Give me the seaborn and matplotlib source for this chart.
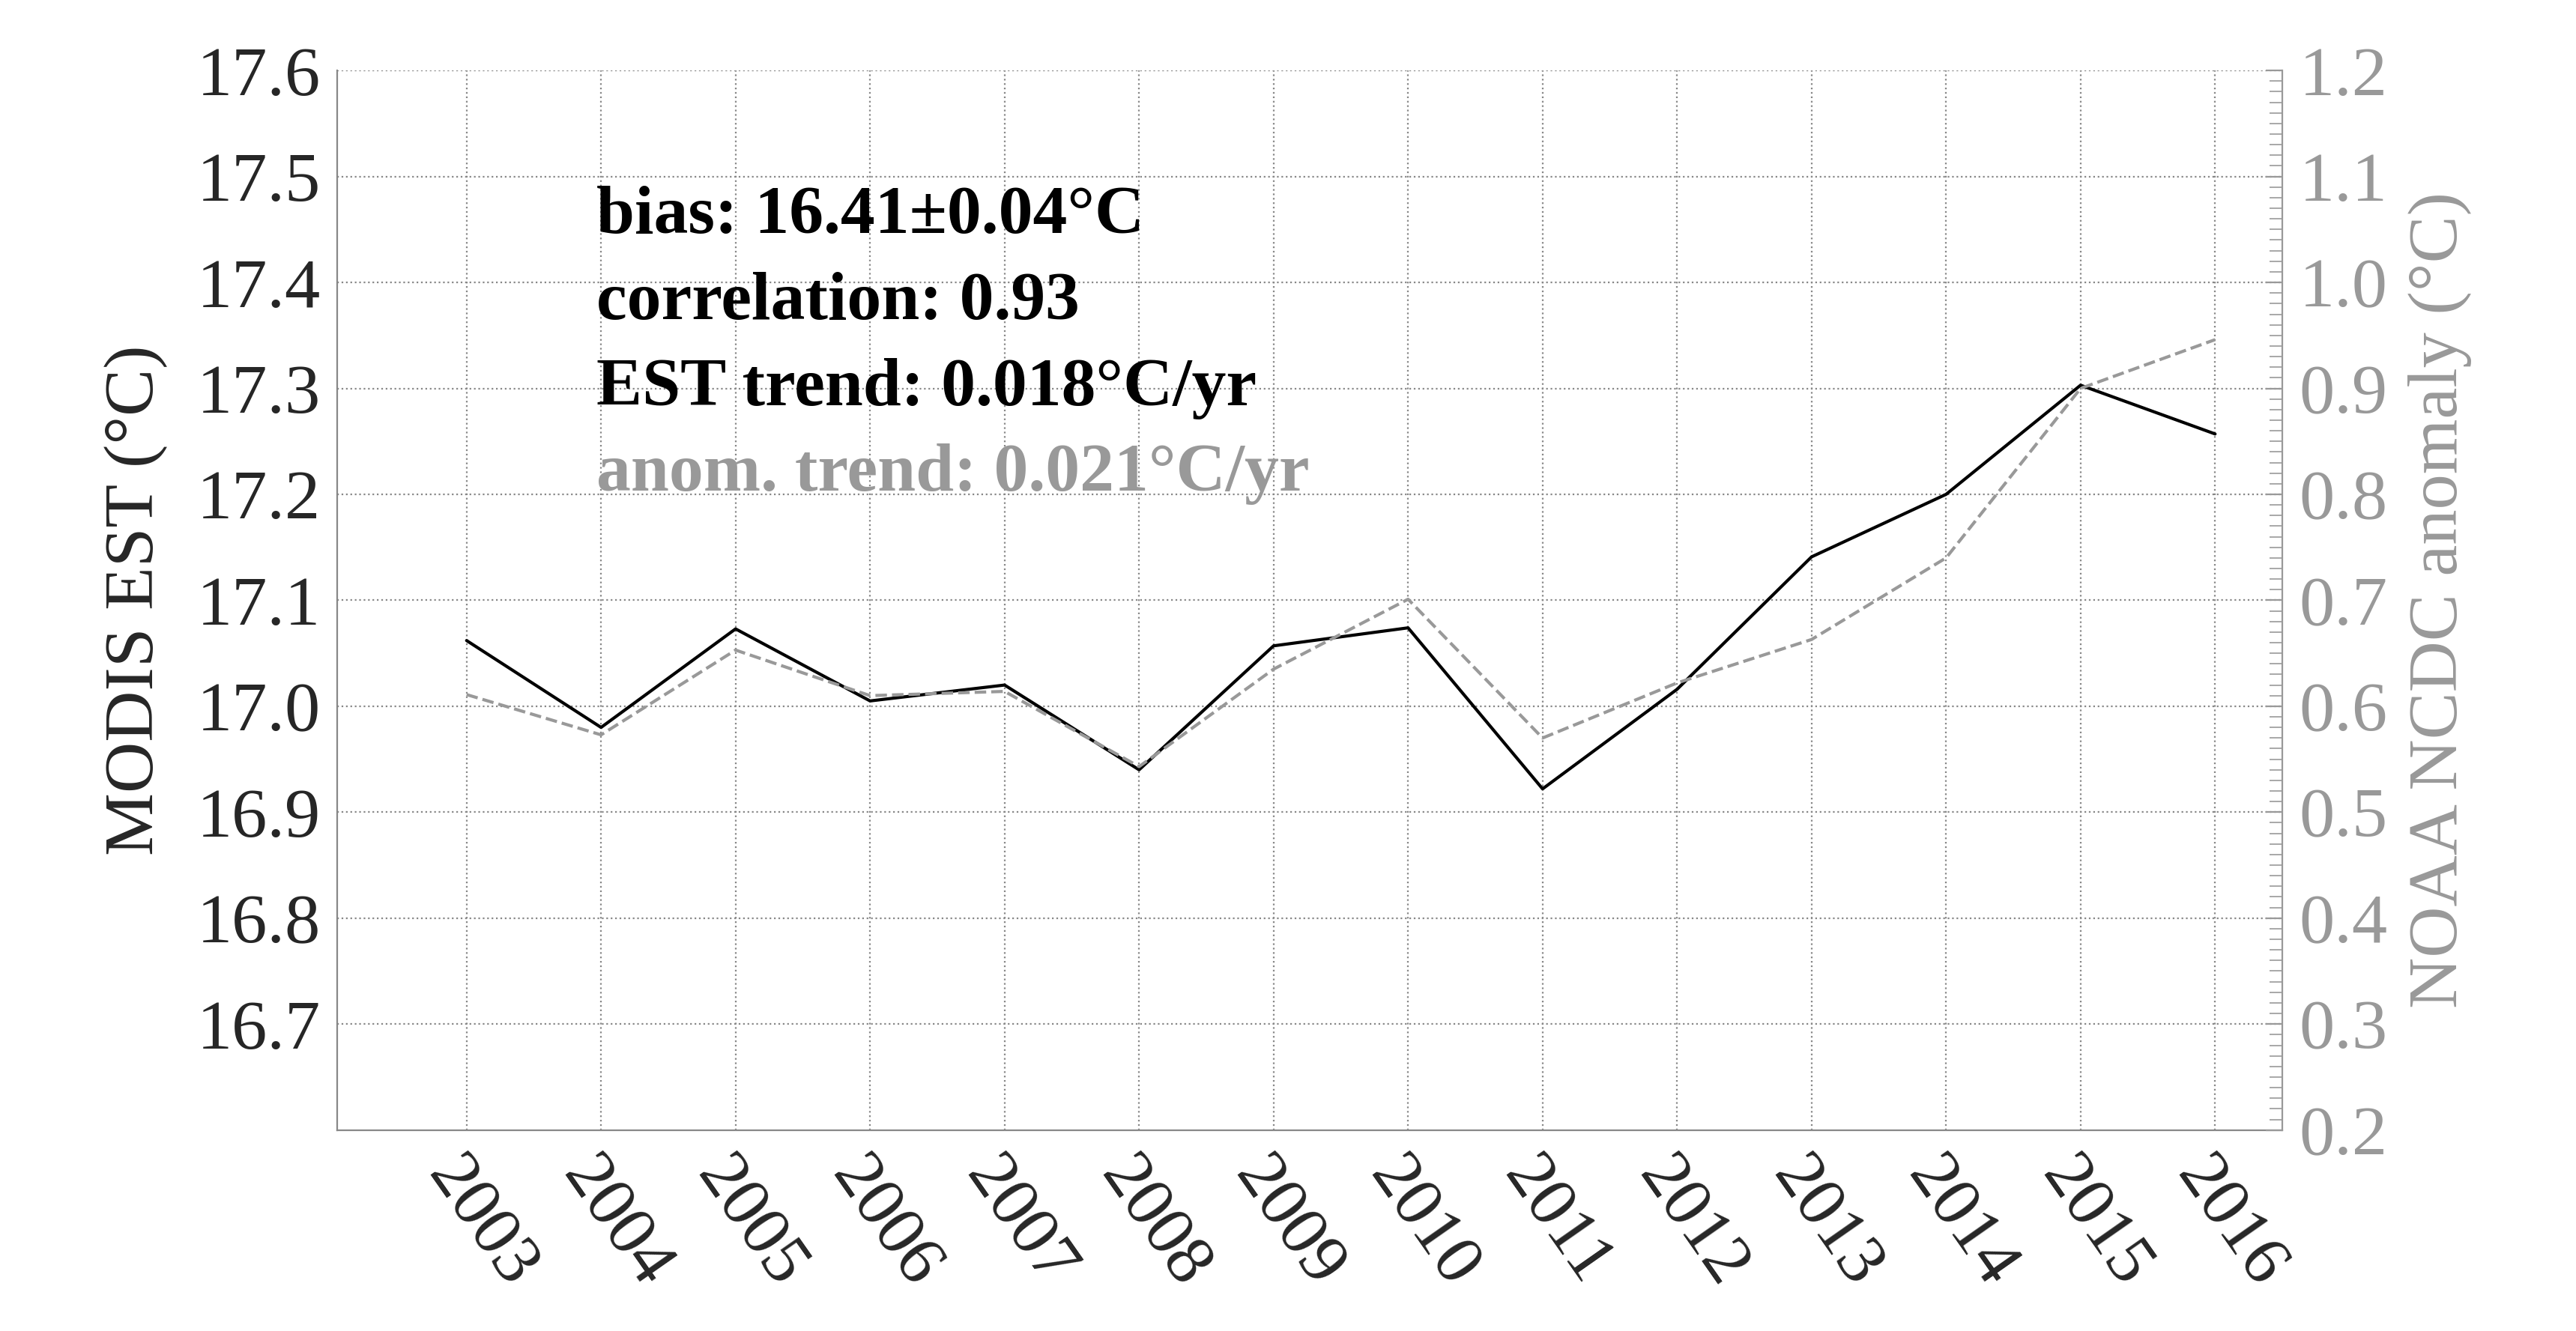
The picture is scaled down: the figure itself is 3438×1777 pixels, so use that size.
import matplotlib
matplotlib.use('Agg')
import matplotlib.pyplot as plt
import numpy as np
import pandas as pd
import seaborn as sns

years = [2003, 2004, 2005, 2006, 2007, 2008, 2009, 2010, 2011, 2012, 2013, 2014, 2015, 2016]
est = [17.062, 16.980, 17.073, 17.005, 17.020, 16.940, 17.057, 17.074, 16.922, 17.016, 17.141, 17.200, 17.303, 17.257]
anom = [0.611, 0.573, 0.653, 0.610, 0.614, 0.543, 0.635, 0.701, 0.570, 0.622, 0.663, 0.740, 0.900, 0.946]

df = pd.DataFrame({'year': years, 'est': est, 'anom': anom})

sns.set_style('white')
plt.rcParams['font.family'] = ['Liberation Serif', 'DejaVu Serif']

fig = plt.figure(figsize=(17.19, 8.885), dpi=200)
ax = fig.add_axes([0.131, 0.151, 0.755, 0.796])
ax2 = ax.twinx()

sns.lineplot(data=df, x='year', y='est', ax=ax, color='black', lw=1.5)
sns.lineplot(data=df, x='year', y='anom', ax=ax2, color='#999999', lw=1.5, linestyle='--')

ax.set_xlim(2002.04, 2016.5)
ax.set_ylim(16.6, 17.6)
ax2.set_ylim(0.2, 1.2)
ax.set_xticks(years)
ax.set_xticklabels([str(y) for y in years], rotation=-55, ha='left', rotation_mode='anchor', fontsize=34)
ax.set_yticks(np.round(np.arange(16.7, 17.61, 0.1), 1))
ax.set_yticklabels([f'{v:.1f}' for v in np.arange(16.7, 17.61, 0.1)], fontsize=34)
ax2.set_yticks(np.round(np.arange(0.2, 1.21, 0.1), 1))
ax2.set_yticklabels([f'{v:.1f}' for v in np.arange(0.2, 1.21, 0.1)], fontsize=34, color='#999999')
ax2.set_yticks(np.arange(0.2, 1.2001, 0.01), minor=True)
ax2.tick_params(axis='y', which='both', colors='#999999', direction='in', length=8, pad=8)
ax2.tick_params(axis='y', which='minor', length=6)
ax.tick_params(axis='both', length=0, pad=8)

ax.grid(True, linestyle=':', color='#888888', lw=0.8)
ax.set_axisbelow(True)
ax.set_xlabel('')
ax.set_ylabel('MODIS EST (°C)', fontsize=34, labelpad=14)
ax2.set_ylabel('NOAA NCDC anomaly (°C)', fontsize=34, color='#999999', labelpad=10)

ax.spines['top'].set_visible(False)
ax2.spines['top'].set_visible(False)
ax.spines['right'].set_visible(False)
ax2.spines['left'].set_visible(False)
ax2.spines['bottom'].set_visible(False)
ax2.spines['right'].set_color('#999999')
ax.spines['left'].set_color('#888888')
ax.spines['bottom'].set_color('#888888')

lines = [('bias: 16.41±0.04°C', 'black'), ('correlation: 0.93', 'black'),
         ('EST trend: 0.018°C/yr', 'black'), ('anom. trend: 0.021°C/yr', '#999999')]
for i, (t, c) in enumerate(lines):
    ax.text(0.133, 0.862 - i * 0.081, t, transform=ax.transAxes, fontsize=33,
            fontweight='bold', color=c, va='center')

fig.savefig('out.png', dpi=200)
